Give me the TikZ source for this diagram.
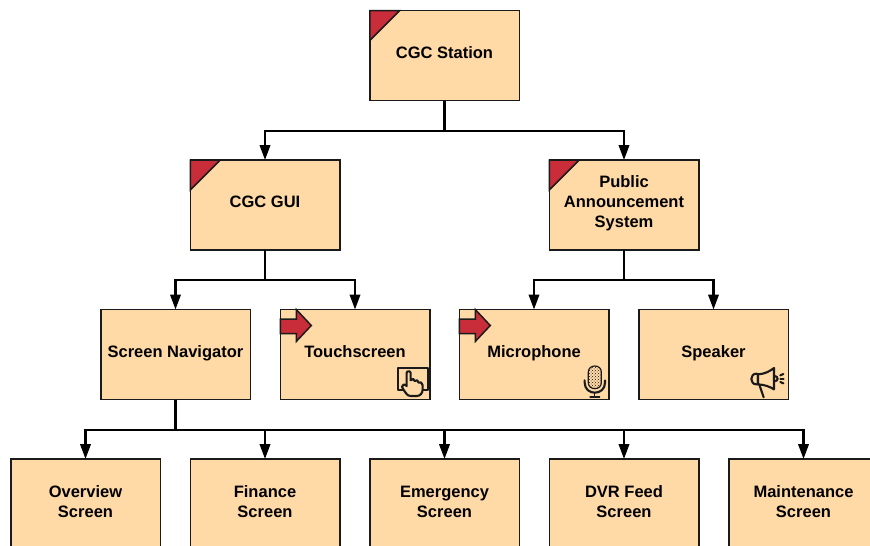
\documentclass[tikz,border=0pt]{standalone}
\usepackage{fontspec}
\setmainfont{Liberation Sans}
\usetikzlibrary{arrows.meta,patterns}
\definecolor{boxfill}{HTML}{FFD9A6}
\definecolor{boxred}{HTML}{C92D39}
\definecolor{ink}{HTML}{1A1A1A}
\tikzset{
  box/.style={draw=ink,line width=1.5pt,fill=boxfill,minimum width=149.5pt,minimum height=90pt,inner sep=0pt,outer sep=0pt},
  boxlabel/.style={font=\fontsize{16.5}{20}\selectfont\bfseries,align=center,text=black,yshift=1.5pt,inner sep=0pt,
    execute at begin node=\strut,execute at end node=\strut},
  midlabel/.style={boxlabel,yshift=-0.6pt},
  lowlabel/.style={boxlabel,yshift=-2.5pt},
  conn/.style={draw=black,line width=2.2pt,-{Triangle[length=15pt,width=10.5pt]}},
  trunk/.style={draw=black,line width=2.2pt},
  redmark/.style={draw=ink,line width=1.5pt,fill=boxred,line join=miter},
  icon/.style={draw=ink,line width=2.1pt,line join=round,line cap=round},
  iconfill/.style={icon,fill=boxfill},
  zoomunits/.style={x=0.3333pt,y=-0.3333pt},
}
\begin{document}
\begin{tikzpicture}[x=1pt,y=-1pt]
\useasboundingbox (0,0) rectangle (870,546);
\clip (0,0) rectangle (870,546);
\node[box,label={[boxlabel]center:CGC Station}] (st) at (444.5,55.5) {};
\node[box,label={[boxlabel]center:CGC GUI}] (gui) at (265,205) {};
\node[box,label={[midlabel]center:Public\\Announcement\\System}] (pa) at (624,205) {};
\node[box,label={[boxlabel]center:Screen Navigator}] (nav) at (175.5,354.5) {};
\node[box,label={[boxlabel]center:Touchscreen}] (ts) at (355,354.5) {};
\node[box,label={[boxlabel]center:Microphone}] (mic) at (534,354.5) {};
\node[box,label={[boxlabel]center:Speaker}] (spk) at (713.5,354.5) {};
\node[box,label={[lowlabel]center:Overview\\Screen}] (ov) at (85.5,504) {};
\node[box,label={[lowlabel]center:Finance\\Screen}] (fin) at (265,504) {};
\node[box,label={[lowlabel]center:Emergency\\Screen}] (em) at (444.5,504) {};
\node[box,label={[lowlabel]center:DVR Feed\\Screen}] (dvr) at (624,504) {};
\node[box,label={[lowlabel]center:Maintenance\\Screen}] (mnt) at (803.5,504) {};
% connectors
\coordinate (j1) at (444.5,131);
\coordinate (j2) at (265,280);
\coordinate (j3) at (624,280);
\coordinate (j4) at (175.5,430);
\draw[trunk] (st.south) -- (j1);
\draw[conn] (j1) -| (gui.north);
\draw[conn] (j1) -| (pa.north);
\draw[trunk] (gui.south) -- (j2);
\draw[conn] (j2) -| (nav.north);
\draw[conn] (j2) -| (ts.north);
\draw[trunk] (pa.south) -- (j3);
\draw[conn] (j3) -| (mic.north);
\draw[conn] (j3) -| (spk.north);
\draw[trunk] (nav.south) -- (j4);
\draw[conn] (j4) -| (ov.north);
\draw[conn] (j4) -| (fin.north);
\draw[conn] (j4) -| (em.north);
\draw[conn] (j4) -| (dvr.north);
\draw[conn] (j4) -| (mnt.north);
% corners
\foreach \n in {st,gui,pa}
  \draw[redmark] (\n.north west) -- ++(30,0) -- ++(-30,30) -- cycle;
% block arrows
\foreach \n in {ts,mic}
  \draw[redmark] (\n.north west) ++(0,9.5) -- ++(16,0) -- ++(0,-9.5) -- ++(15,16) -- ++(-15,16) -- ++(0,-8) -- ++(-16,0) -- cycle;
% touchscreen icon
\begin{scope}[shift={(392,362)},zoomunits]
  \draw[icon] (17,18) rectangle (108,85);
  \draw[iconfill] (44,72) -- (44,33) .. controls (44,26) and (56,26) .. (56,33) -- (56,55)
    .. controls (60,48) and (68,50) .. (68,57) .. controls (72,52) and (80,55) .. (80,62)
    .. controls (84,58) and (92,62) .. (92,70) -- (92,82) .. controls (92,94) and (84,102) .. (74,102)
    -- (56,102) .. controls (46,102) and (40,92) .. (35,84) -- (30,74) .. controls (30,66) and (38,66) .. (44,72) -- cycle;
\end{scope}
% microphone icon
\begin{scope}[shift={(578,362)},zoomunits]
  \draw[iconfill,line width=1.2pt] (31,30) .. controls (31,6) and (70,6) .. (70,30) -- (70,62) .. controls (70,86) and (31,86) .. (31,62) -- cycle;
  \path[pattern=crosshatch dots,pattern color=ink] (32,30) .. controls (32,8) and (69,8) .. (69,30) -- (69,62) .. controls (69,84) and (32,84) .. (32,62) -- cycle;
  \draw[icon] (20,55) -- (20,62) .. controls (20,102) and (81,102) .. (81,62) -- (81,55);
  \draw[icon,line width=1.3pt] (50,92) -- (50,103);
  \draw[icon,line width=1.3pt] (36,105) -- (65,105);
\end{scope}
% speaker icon
\begin{scope}[shift={(748,362)},zoomunits]
  \draw[iconfill] (30,37) -- (25,35) .. controls (5,35) and (5,67) .. (25,67) -- (30,67) -- cycle;
  \draw[iconfill] (30,37) .. controls (50,36) and (65,28) .. (78,18) -- (78,82) .. controls (65,74) and (50,68) .. (30,67) -- cycle;
  \draw[icon] (34,68) -- (47,106);
  \draw[icon] (79,42) .. controls (92,42) and (92,58) .. (79,58);
  \draw[icon] (97,40) -- (106,36);
  \draw[icon] (97,50) -- (107,50);
  \draw[icon] (97,60) -- (106,64);
\end{scope}
\end{tikzpicture}
\end{document}
